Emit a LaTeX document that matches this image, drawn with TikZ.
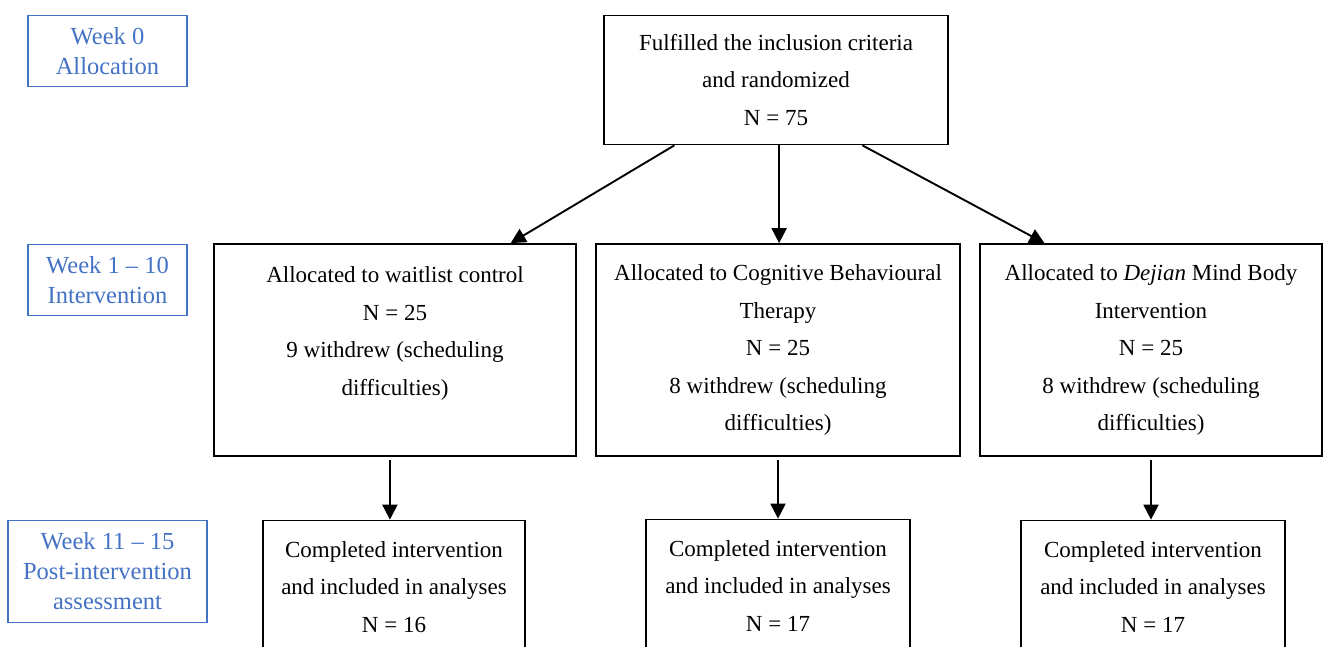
\documentclass[tikz,border=0pt]{standalone}
\usepackage{fontspec}
\setmainfont{Liberation Serif}
\usepackage{tikz}
\usetikzlibrary{arrows.meta,calc}
\tikzset{font={\fontsize{23pt}{37.5pt}\selectfont}}
\definecolor{weekblue}{HTML}{4472C4}

\begin{document}
\begin{tikzpicture}[x=1pt,y=-1pt,
box/.style={draw,line width=1.7pt,inner sep=0pt,align=center},
weekbox/.style={draw=weekblue,line width=1.3pt,inner sep=0pt,align=center,text=weekblue,
  font={\fontsize{24.5pt}{30pt}\selectfont}},
arr/.style={line width=1.9pt,-{Triangle[length=15pt,width=15pt]}}
]
\useasboundingbox (0,0) rectangle (1323,646);
\clip (0,0) rectangle (1323,646);

%timeline
\node[weekbox,minimum width=159pt,minimum height=71pt] (w0) at (107.5,51) {Week 0\\Allocation};
\node[weekbox,minimum width=159pt,minimum height=71pt] (w1) at (107.5,280) {Week 1 -- 10\\Intervention};
\node[weekbox,minimum width=199pt,minimum height=102pt] (w2) at (107.5,571.5) {Week 11 -- 15\\Post-intervention\\assessment};

\node[box,minimum width=344pt,minimum height=129pt] (rand) at (776,80) {Fulfilled the inclusion criteria\\and randomized\\N = 75};

\node[box,minimum width=362pt,minimum height=212pt] (wait) at (395,350) {Allocated to waitlist control\\N = 25\\9 withdrew (scheduling\\difficulties)\\ \mbox{}};
\node[box,minimum width=364pt,minimum height=212pt] (cbt) at (778,350) {Allocated to Cognitive Behavioural\\Therapy\\N = 25\\8 withdrew (scheduling\\difficulties)};
\node[box,minimum width=342pt,minimum height=212pt] (dmbi) at (1151,350) {Allocated to \textit{Dejian} Mind Body\\Intervention\\N = 25\\8 withdrew (scheduling\\difficulties)};

\node[box,minimum width=262pt,minimum height=133pt] (waitdone) at (394,587) {Completed intervention\\and included in analyses\\N = 16};
\node[box,minimum width=264pt,minimum height=133pt] (cbtdone) at (778,586) {Completed intervention\\and included in analyses\\N = 17};
\node[box,minimum width=264pt,minimum height=133pt] (dmbidone) at (1153,587) {Completed intervention\\and included in analyses\\N = 17};

% three arms
\draw[arr] ($(rand.south west)!0.206!(rand.south east)$) -- ($(wait.north west)!0.818!(wait.north east)$);
\draw[arr] ($(rand.south west)!0.509!(rand.south east)$) coordinate (m) -- (m |- cbt.north);
\draw[arr] ($(rand.south west)!0.75!(rand.south east)$) -- ($(dmbi.north west)!0.19!(dmbi.north east)$);

\draw[arr,shorten <=3pt] ($(wait.south west)!0.486!(wait.south east)$) coordinate (l) -- (l |- waitdone.north);
\draw[arr,shorten <=3pt] (cbt.south) -- (cbtdone.north);
\draw[arr,shorten <=3pt] (dmbi.south) -- (dmbi.south |- dmbidone.north);
\end{tikzpicture}
\end{document}
